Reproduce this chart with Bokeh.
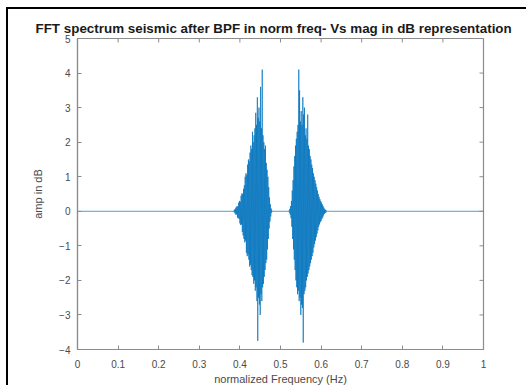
import numpy as np
from bokeh.plotting import figure
from bokeh.models import FixedTicker, Range1d
from bokeh.embed import file_html
from bokeh.resources import INLINE

# ---------------- data ----------------
title_text = "FFT spectrum seismic after BPF in norm freq- Vs mag in dB representation"
x_label = "normalized Frequency (Hz)"
y_label = "amp in dB"
x_ticks = [0, 0.1, 0.2, 0.3, 0.4, 0.5, 0.6, 0.7, 0.8, 0.9, 1]
x_tick_labels = ["0", "0.1", "0.2", "0.3", "0.4", "0.5", "0.6", "0.7", "0.8", "0.9", "1"]
y_ticks = [-4, -3, -2, -1, 0, 1, 2, 3, 4, 5]
x_limits = [0, 1]
y_limits = [-4, 5]

# sampling of the two band-pass bursts (normalized frequency)
burst1_start = 0.385
burst2_start = 0.521
bin_step = 0.001

burst1_amp = [
    0.02, -0.03, 0.05, -0.06, 0.08, -0.10, 0.12, -0.09, 0.15, -0.18,
    0.14, -0.20, 0.25, -0.22, 0.30, -0.35, 0.28, -0.40, 0.45, -0.38,
    0.52, -0.60, 0.50, -0.70, 0.65, -0.80, 0.75, -0.90, 1.00, -0.85,
    1.10, -1.20, 1.05, -1.30, 1.35, -1.25, 1.50, -1.40, 1.45, -1.60,
    1.70, -1.55, 1.90, -1.70, 1.80, -1.85, 2.30, -1.90, 2.00, -2.10,
    2.20, -2.00, 2.40, -2.30, 2.85, -2.20, 2.50, -2.60, 3.30, -3.75,
    2.70, -2.50, 3.00, -2.70, 2.60, -3.00, 3.60, -2.40, 2.40, -2.60,
    4.10, -2.20, 2.20, -2.10, 2.00, -1.90, 1.80, -1.70, 1.90, -1.50,
    1.40, -1.40, 1.20, -1.10, 1.00, -0.80, 0.70, -0.50, 0.40, -0.30,
    0.20, -0.15, 0.08, -0.04, 0.02,
]

burst2_amp = [
    0.02, -0.04, 0.07, -0.10, 0.15, -0.20, 0.30, -0.45, 0.60, -0.80,
    0.90, -1.10, 1.30, -1.40, 1.60, -1.70, 1.90, -2.00, 2.10, -2.20,
    2.30, -2.40, 2.50, -2.30, 4.10, -2.60, 3.50, -2.50, 2.60, -3.00,
    2.90, -2.70, 2.50, -2.80, 3.30, -3.80, 2.80, -2.40, 3.00, -2.30,
    2.20, -2.20, 2.40, -2.00, 2.10, -1.90, 2.80, -1.80, 1.90, -1.70,
    1.80, -1.60, 1.60, -1.50, 1.50, -1.40, 1.35, -1.30, 1.25, -1.20,
    1.10, -1.05, 1.00, -0.95, 0.90, -0.85, 0.80, -0.75, 0.70, -0.65,
    0.60, -0.55, 0.50, -0.45, 0.42, -0.38, 0.35, -0.32, 0.30, -0.28,
    0.25, -0.22, 0.20, -0.18, 0.15, -0.12, 0.10, -0.08, 0.06, -0.05,
    0.04, -0.03, 0.02, -0.01, 0.00,
]

# flat (zero) parts of the spectrum
flat_freq_left = [0.0, 0.384]
flat_freq_mid = [0.480, 0.520]
flat_freq_right = [0.616, 1.0]
flat_amp = [0.0, 0.0]

# ---------------- assemble series ----------------
f1 = list(np.round(burst1_start + bin_step * np.arange(len(burst1_amp)), 4))
f2 = list(np.round(burst2_start + bin_step * np.arange(len(burst2_amp)), 4))
freq = flat_freq_left + f1 + flat_freq_mid + f2 + flat_freq_right
amp = flat_amp + burst1_amp + flat_amp + burst2_amp + flat_amp

# ---------------- figure ----------------
AX = "#8c8c8c"
LBL = "#4a4a4a"
FONT = "Liberation Sans"

p = figure(
    width=520, height=378,
    x_range=Range1d(*x_limits), y_range=Range1d(*y_limits),
    output_backend="svg", toolbar_location=None,
    min_border_left=69, min_border_right=45,
    min_border_top=29, min_border_bottom=37,
)
p.styles = {
    "border-top": "2px solid #000",
    "border-left": "2px solid #000",
    "margin-left": "6px",
    "margin-top": "7px",
}
p.background_fill_color = "white"
p.border_fill_color = "white"
p.outline_line_color = AX
p.outline_line_width = 1.2
p.xgrid.visible = False
p.ygrid.visible = False

p.title.text = title_text
p.title.text_font = FONT
p.title.text_font_size = "13.4px"
p.title.text_font_style = "bold"
p.title.text_color = "#1a1a1a"
p.title.align = "left"
p.title.offset = -42
p.title.standoff = 5

p.line(freq, amp, line_color="#0072BD", line_width=0.7)

# inward tick marks on the top and right edges of the box (clipped to frame)
p.scatter(x_ticks, [y_limits[1]] * len(x_ticks), marker="dash", angle=np.pi / 2,
          size=8, line_color=AX, line_width=1)
p.scatter([x_limits[1]] * len(y_ticks), y_ticks, marker="dash",
          size=8, line_color=AX, line_width=1)


def style_axis(ax):
    ax.major_tick_in = 4
    ax.major_tick_out = 0
    ax.minor_tick_in = 0
    ax.minor_tick_out = 0
    ax.axis_line_color = AX
    ax.axis_line_width = 1.2
    ax.major_tick_line_color = AX
    ax.major_label_text_font = FONT
    ax.major_label_text_font_size = "10px"
    ax.major_label_text_color = LBL
    ax.axis_label_text_font = FONT
    ax.axis_label_text_font_size = "11px"
    ax.axis_label_text_font_style = "normal"
    ax.axis_label_text_color = LBL


xa = p.xaxis[0]
xa.ticker = FixedTicker(ticks=x_ticks)
xa.major_label_overrides = {t: l for t, l in zip(x_ticks, x_tick_labels)}
xa.axis_label = x_label
style_axis(xa)
xa.major_label_standoff = 10
xa.axis_label_standoff = 2

ya = p.yaxis[0]
ya.ticker = FixedTicker(ticks=y_ticks)
ya.axis_label = y_label
style_axis(ya)
ya.major_label_standoff = 7
ya.axis_label_standoff = 12

open("out.html", "w").write(file_html(p, INLINE))
